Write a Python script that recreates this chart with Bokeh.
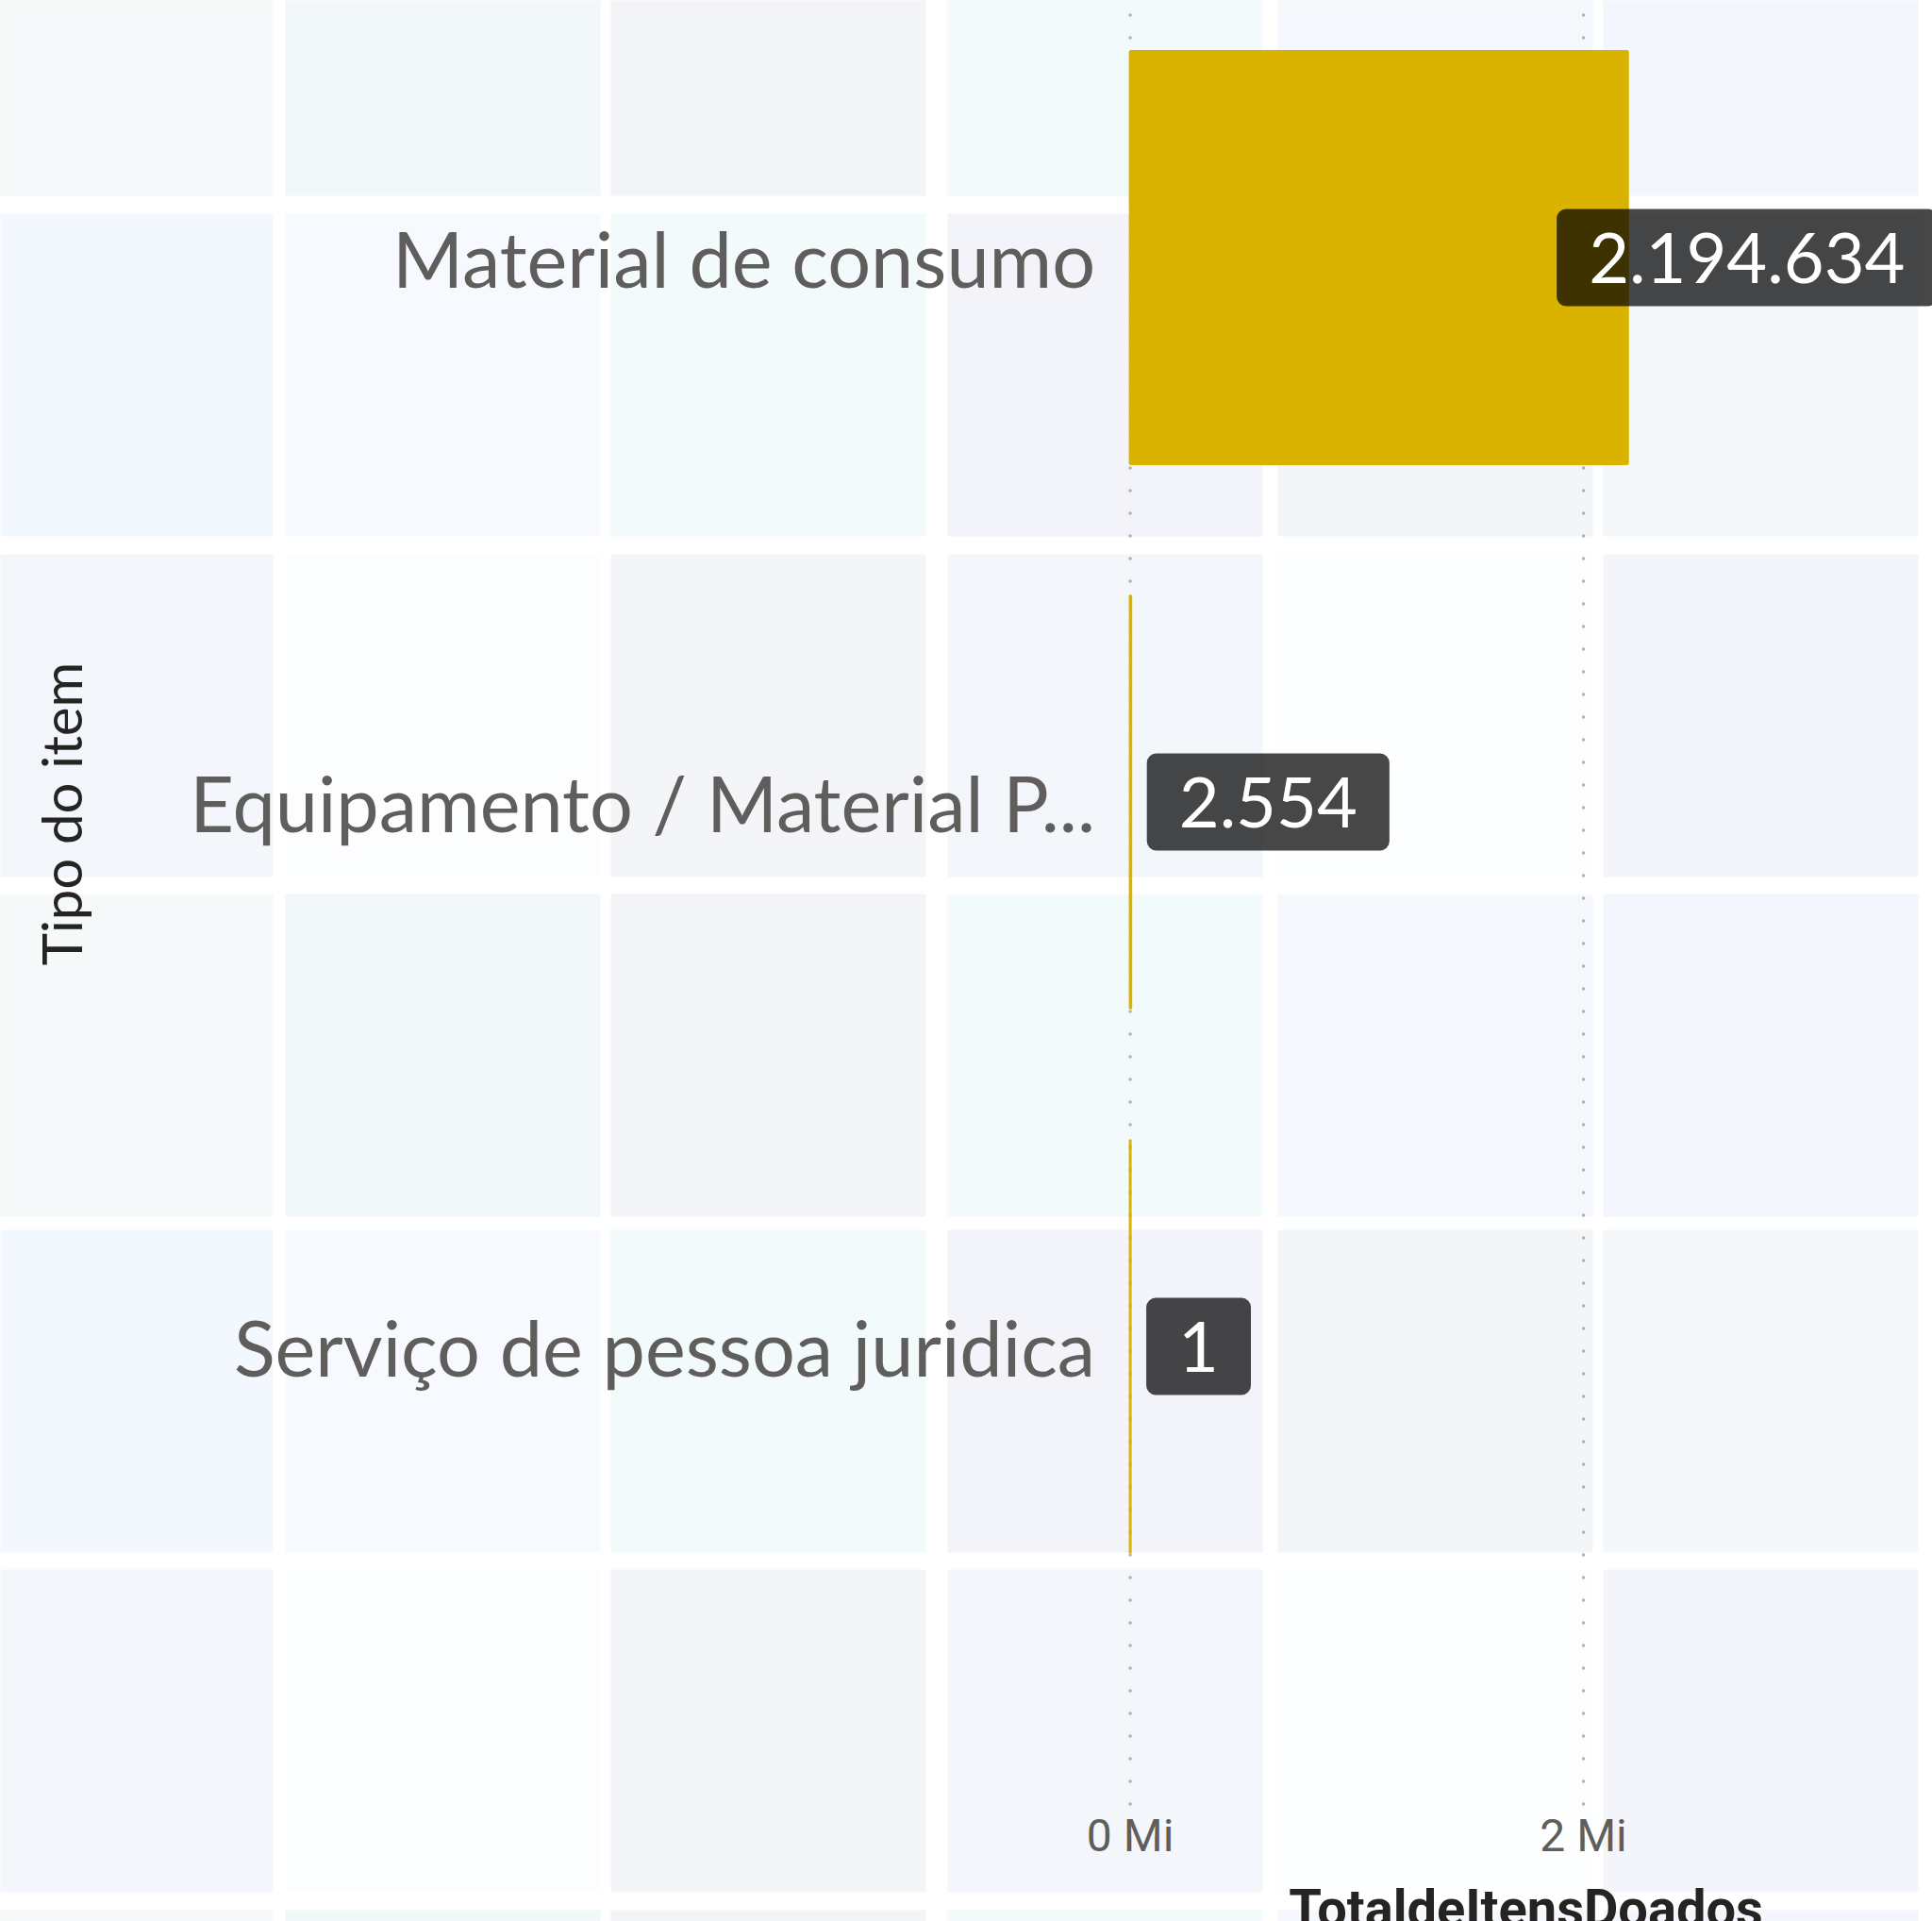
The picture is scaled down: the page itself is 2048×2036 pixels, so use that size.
import math
from bokeh.plotting import figure
from bokeh.models import ColumnDataSource, Range1d, FixedTicker, BoxAnnotation, Label
from bokeh.embed import file_html
from bokeh.resources import INLINE
from bokeh.core.properties import value

# ---------------- data ----------------
categories = ["Material de consumo", "Equipamento / Material P...", "Serviço de pessoa juridica"]
totals = [2194634, 2554, 1]
value_labels = ["2.194.634", "2.554", "1"]
x_ticks = [0, 2_000_000]
x_tick_labels = ["0 Mi", "2 Mi"]
x_title = "TotaldeItensDoados"
y_title = "Tipo do item"

# ---------------- layout constants (pixels) ----------------
W, H = 2048, 2036
PX0 = 1197.6            # pixel of value 0
PX_PER_X = 240.2 / 1e6  # pixels per item
PX_PER_Y = 577.0        # pixels per category band
FIRST_BAND_PY = 272.5   # pixel centre of the top band
AXIS_PY = 1910          # bottom of the value area
n = len(categories)
y_top = (n - 1) + FIRST_BAND_PY / PX_PER_Y


def px2x(px):
    return (px - PX0) / PX_PER_X


def py2y(py):
    return y_top - py / PX_PER_Y


BAR = "#D9B300"
LABEL_GRAY = "#605E5C"
DARK = "#252423"

p = figure(width=W, height=H, output_backend="svg", toolbar_location=None,
           x_range=Range1d(px2x(0), px2x(W)), y_range=Range1d(py2y(H), y_top),
           min_border_left=0, min_border_right=0, min_border_top=0, min_border_bottom=0)
p.background_fill_color = "white"
p.border_fill_color = "white"
p.outline_line_color = None

# ---------------- decorative background tiles ----------------
tile_colors = [
    ["#F5F9FA", "#F2F7FA", "#F3F4F8", "#F2FAFC", "#F5F8FC", "#F3F6FD"],
    ["#F3F7FE", "#F6F9FE", "#F2FAFC", "#F3F4F9", "#F2F6F9", "#F5F8FA"],
    ["#F3F6FB", "#FCFDFF", "#F3F5F9", "#F3F6FA", "#FDFEFF", "#F3F5FA"],
]
col_lefts = [-45, 302, 647, 1004, 1354, 1699]
row_tops = [-135, 226, 587, 947, 1303, 1663, 2024]
TILE_W, TILE_H = 334, 342
for ri, rt in enumerate(row_tops):
    for ci, cl in enumerate(col_lefts):
        p.add_layout(BoxAnnotation(left=px2x(cl), right=px2x(cl + TILE_W),
                                   top=py2y(rt), bottom=py2y(rt + TILE_H),
                                   fill_color=tile_colors[ri % 3][ci], fill_alpha=1.0,
                                   line_color=None, level="image"))

# ---------------- dotted value gridlines ----------------
p.segment(x0=x_ticks, x1=x_ticks, y0=[py2y(1913)] * len(x_ticks), y1=[y_top] * len(x_ticks),
          line_color="#B3B1AF", line_width=3, line_dash="3 21")
p.xgrid.grid_line_color = None
p.ygrid.grid_line_color = None

# ---------------- bars ----------------
ys = [n - 1 - i for i in range(n)]
src = ColumnDataSource(dict(y=ys, total=totals, cat=categories, lbl=value_labels))
p.hbar(y="y", left=0, right="total", height=0.757, source=src,
       fill_color=BAR, line_color=BAR, line_width=3)

# ---------------- data labels ----------------
LBL_SIZE = 74
PAD_X, PAD_Y = 34, 25
x_right = px2x(W)
out_d = dict(x=[], y=[], lbl=[])
in_d = dict(x=[], y=[], lbl=[])
for t, yv, lb in zip(totals, ys, value_labels):
    est_w = len(lb) * 0.55 * LBL_SIZE
    if PX0 + t * PX_PER_X + 18 + 2 * PAD_X + est_w > W:
        in_d["x"].append(x_right); in_d["y"].append(yv); in_d["lbl"].append(lb)
    else:
        out_d["x"].append(t); out_d["y"].append(yv); out_d["lbl"].append(lb)

common = dict(text="lbl", text_baseline="middle", text_font=value("Lato"),
              text_font_size=f"{LBL_SIZE}px", text_color="white",
              background_fill_color="black", background_fill_alpha=0.72,
              border_radius=10, padding=(PAD_X, PAD_Y))
p.text(x="x", y="y", source=ColumnDataSource(out_d), text_align="left", x_offset=17, **common)
p.text(x="x", y="y", source=ColumnDataSource(in_d), text_align="right", x_offset=5, **common)

# ---------------- axes ----------------
p.xaxis.fixed_location = py2y(AXIS_PY)
p.xaxis.ticker = FixedTicker(ticks=x_ticks)
p.xaxis.major_label_overrides = {t: s for t, s in zip(x_ticks, x_tick_labels)}
p.xaxis.major_label_text_font = "Roboto"
p.xaxis.major_label_text_font_size = "48px"
p.xaxis.major_label_text_color = LABEL_GRAY
p.xaxis.major_label_standoff = 0
p.xaxis.axis_line_color = None
p.xaxis.major_tick_line_color = None
p.xaxis.minor_tick_line_color = None

p.yaxis.fixed_location = 0
p.yaxis.ticker = FixedTicker(ticks=ys)
p.yaxis.major_label_overrides = {yv: c for yv, c in zip(ys, categories)}
p.yaxis.major_label_text_font = "Lato"
p.yaxis.major_label_text_font_size = "81px"
p.yaxis.major_label_text_color = LABEL_GRAY
p.yaxis.major_label_standoff = 31
p.yaxis.axis_line_color = None
p.yaxis.major_tick_line_color = None
p.yaxis.minor_tick_line_color = None

# ---------------- axis titles ----------------
p.add_layout(Label(x=px2x(64), y=py2y(862), text=y_title, angle=math.pi / 2,
                   text_align="center", text_baseline="middle",
                   text_font="Lato", text_font_size="58px", text_color=DARK))
p.add_layout(Label(x=px2x(1617), y=py2y(1989), text=x_title,
                   text_align="center", text_baseline="top",
                   text_font="Roboto", text_font_size="56px", text_font_style="bold",
                   text_color=DARK))

open("out.html", "w").write(file_html(p, INLINE))
